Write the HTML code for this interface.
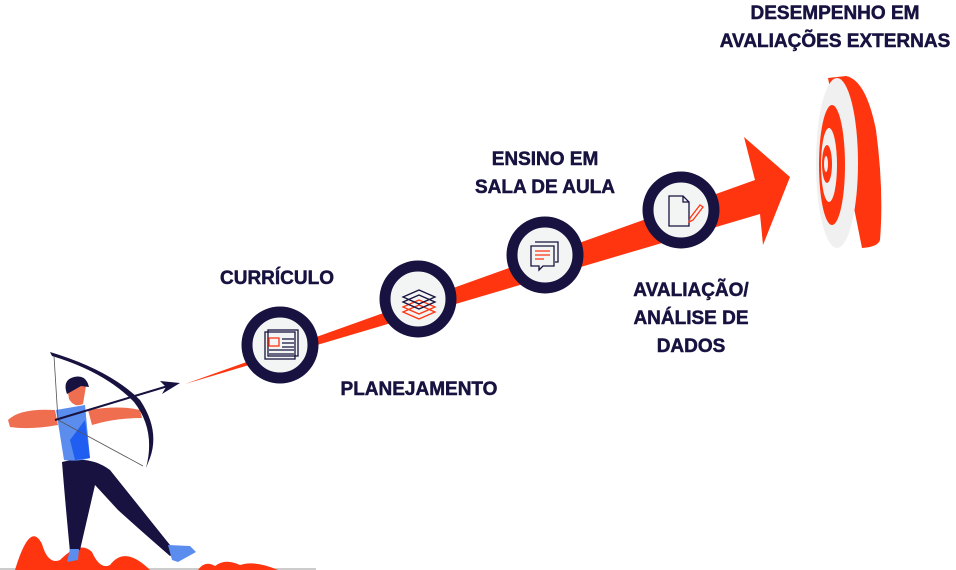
<!DOCTYPE html>
<html><head><meta charset="utf-8"><style>
html,body{margin:0;padding:0;background:#fff;width:956px;height:570px;overflow:hidden}
text{font-family:"Liberation Sans",sans-serif;font-weight:bold;fill:#17123f;stroke:#17123f;stroke-width:0.5;font-size:19px;text-anchor:middle}
</style></head><body>
<svg width="956" height="570" viewBox="0 0 956 570" xmlns="http://www.w3.org/2000/svg">
<!-- main arrow -->
<polygon points="185,384 755,180 744,137 790,177 763,245 760,214" fill="#ff3510"/>
<!-- target -->
<path d="M828,78 L846,76 Q866,80 876,130 Q884,190 880,240 Q878,247 862,248 Z" fill="#ff3510"/>
<ellipse cx="837" cy="163" rx="21" ry="85" fill="#f0f0f0"/>
<ellipse cx="832" cy="165" rx="13" ry="60" fill="#ff3510"/>
<ellipse cx="829" cy="165" rx="8" ry="37" fill="#f0f0f0"/>
<ellipse cx="827" cy="164" rx="5" ry="19" fill="#ff3510"/>
<ellipse cx="826" cy="164" rx="2" ry="8" fill="#f0f0f0"/>
<!-- circles -->
<g fill="#f3f5f5" stroke="#17123f" stroke-width="11">
<circle cx="280" cy="345" r="33"/>
<circle cx="418" cy="299" r="33"/>
<circle cx="545" cy="255" r="33"/>
<circle cx="681" cy="210" r="33"/>
</g>
<!-- icon 1 -->
<g fill="none" stroke-width="1.3">
<rect x="265" y="332" width="30" height="27" stroke="#17123f"/>
<rect x="268" y="330" width="30" height="26" stroke="#17123f"/>
<rect x="269" y="338" width="10" height="8" stroke="#ff3510"/>
<path d="M282,339h12M282,343h12M282,347h12M269,350h25M269,354h25" stroke="#17123f"/>
</g>
<!-- icon 2 -->
<g fill="none" stroke-width="1.3">
<path d="M403,312 L419,305 L435,312 L419,319 Z M403,307 L419,300 L435,307 L419,314 Z" stroke="#ff3510"/>
<path d="M403,302 L419,295 L435,302 L419,309 Z M403,297 L419,290 L435,297 L419,304 Z" stroke="#17123f"/>
</g>
<!-- icon 3 -->
<g fill="none" stroke-width="1.3" stroke="#17123f">
<path d="M535,242 h23 v20 h-3"/>
<path d="M531,246 h23 v20 h-11 l-4,4 v-4 h-8 Z" fill="#f3f5f5"/>
<path d="M535,251h15M535,255h15M535,259h9" stroke="#ff3510"/>
</g>
<!-- icon 4 -->
<g fill="none" stroke-width="1.3">
<path d="M669,196 h14 l6,6 v24 h-20 Z M683,196 v6 h6" stroke="#17123f"/>
<path d="M690,218 l10,-13 l3,2 l-10,13 l-4,2 Z" stroke="#ff3510" fill="#f3f5f5"/>
</g>
<!-- labels -->
<text x="277" y="284">CURRÍCULO</text>
<text x="419" y="395">PLANEJAMENTO</text>
<text x="545" y="165">ENSINO EM</text>
<text x="545" y="193">SALA DE AULA</text>
<text x="691" y="296">AVALIAÇÃO/</text>
<text x="691" y="324">ANÁLISE DE</text>
<text x="691" y="352">DADOS</text>
<text x="835" y="19">DESEMPENHO EM</text>
<text x="835" y="47">AVALIAÇÕES EXTERNAS</text>
<!-- ground -->
<line x1="0" y1="569" x2="316" y2="569" stroke="#bbb" stroke-width="1.5"/>
<path d="M15,570 Q30,520 42,544 Q48,565 60,560 Q80,540 92,552 Q100,570 110,565 Q125,545 150,570 Z" fill="#ff3510"/>
<path d="M198,570 Q205,560 215,566 Q225,558 240,565 Q255,560 278,570 Z" fill="#ff3510"/>
<!-- archer -->
<g>
<path d="M62,462 Q90,455 110,470 L170,545 L180,552 L170,556 Q140,530 118,510 L95,485 L80,550 L70,552 Q65,500 62,462 Z" fill="#17123f"/>
<path d="M168,545 L190,546 L196,552 L178,562 L172,560 Z" fill="#5b8def"/>
<path d="M70,549 L79,549 L78,560 L67,562 Z" fill="#5b8def"/>
<path d="M56,410 L85,405 L90,458 Q78,462 64,460 Z" fill="#5b8def"/>
<path d="M70,440 L85,420 L90,458 L75,460 Z" fill="#1f5ef0"/>
<path d="M8,420 Q20,408 55,410 L58,425 Q30,430 10,427 Z" fill="#ef6e50"/>
<path d="M88,410 Q120,405 140,410 L142,418 Q115,418 92,425 Z" fill="#ef6e50"/>
<path d="M67,386 Q78,378 86,386 L83,404 Q74,408 69,399 Z" fill="#ef6e50"/>
<path d="M67,394 Q62,380 74,377 Q86,374 89,387 L81,386 Z" fill="#17123f"/>
<path d="M50,352 Q110,370 140,400 Q160,430 150,458 L146,468 Q156,430 134,402 Q105,372 52,356 Z" fill="#17123f"/>
<line x1="54" y1="356" x2="58" y2="420" stroke="#555" stroke-width="0.8"/>
<line x1="58" y1="420" x2="143" y2="466" stroke="#555" stroke-width="0.8"/>
<line x1="55" y1="420" x2="168" y2="386" stroke="#17123f" stroke-width="2"/>
<polygon points="180,383 160,381 166,387 162,394" fill="#17123f"/>
</g>
</svg>
</body></html>
